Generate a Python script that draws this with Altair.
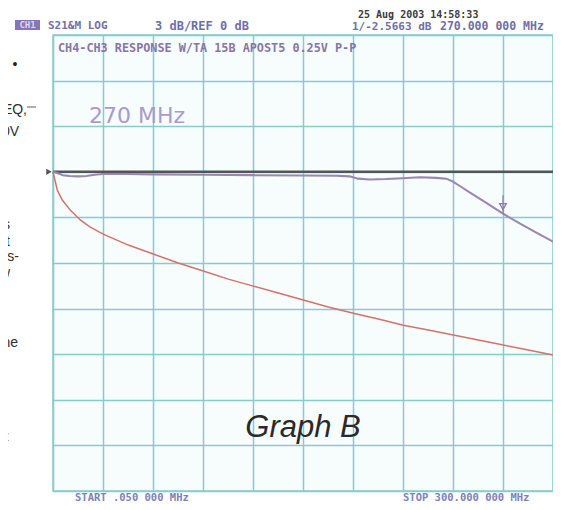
import altair as alt
import pandas as pd

# ---------------- data ----------------
freq_ref = [0.05, 300.0]
db_ref = [0.0, 0.0]

freq_purple = [0.05, 3, 6, 10, 15, 20, 25, 30, 45, 60, 90, 120, 150, 170, 178,
               183, 190, 200, 210, 220, 230, 236, 240, 245, 250, 260, 270, 280, 290, 300]
db_purple = [0.0, -0.1, -0.22, -0.28, -0.3, -0.28, -0.2, -0.15, -0.15, -0.17, -0.2, -0.22,
             -0.24, -0.26, -0.3, -0.45, -0.5, -0.48, -0.42, -0.36, -0.4, -0.45, -0.65,
             -1.0, -1.35, -2.05, -2.75, -3.4, -4.0, -4.6]

freq_red = [0.05, 2.6, 5.6, 10.4, 16.4, 22.4, 30.2, 45.2, 60.2, 75.2, 90.2, 105.2, 120.2,
            135.2, 150.2, 165.2, 180.2, 195.2, 210.2, 225.2, 240.2, 255.2, 270.2, 285.2, 300]
db_red = [0.0, -1.2, -1.86, -2.52, -3.17, -3.64, -4.1, -4.82, -5.41, -6.0, -6.53, -7.06,
          -7.52, -7.98, -8.44, -8.9, -9.3, -9.69, -10.09, -10.41, -10.74, -11.07, -11.4,
          -11.73, -12.06]

marker_freq = [270.0]
marker_db = [-2.75]

x_grid = [0.05, 30, 60, 90, 120, 150, 180, 210, 240, 270, 300]
y_grid = [9, 6, 3, 0, -3, -6, -9, -12, -15, -18, -21]

series_names = ["ref", "magnitude", "response"]
series_colors = ["#545454", "#9a86b0", "#d2736b"]
series_widths = [2.6, 1.5, 1.5]

header_date = "25 Aug 2003  14:58:33"
header_ch = "CH1"
header_fmt = "S21&M LOG"
header_scale = "3 dB/REF 0 dB"
header_mkr = "1/-2.5663 dB"
header_mkr_f = "270.000 000 MHz"
header_title = "CH4-CH3  RESPONSE W/TA 15B  APOST5 0.25V P-P"
start_text = "START  .050 000 MHz"
stop_text = "STOP  300.000 000 MHz"
freq_label = "270 MHz"
graph_label = "Graph B"
side_texts = ["EQ,", "0V", "s", "t", "is-", "w", "ne", "z"]

# ---------------- tables ----------------
rows = []
for f, d in zip(freq_ref, db_ref):
    rows.append({"freq": f, "db": d, "series": "ref"})
for f, d in zip(freq_purple, db_purple):
    rows.append({"freq": f, "db": d, "series": "magnitude"})
for f, d in zip(freq_red, db_red):
    rows.append({"freq": f, "db": d, "series": "response"})
lines_df = pd.DataFrame(rows)

marker_df = pd.DataFrame({"freq": marker_freq, "db": marker_db})
start_df = pd.DataFrame({"freq": [freq_ref[0]], "db": [db_ref[0]]})

GRID = "#86cccc"

x_enc = alt.X("freq:Q",
              scale=alt.Scale(domain=[0.05, 300], nice=False, zero=False),
              axis=alt.Axis(values=x_grid, grid=True, labels=False, ticks=False,
                            domain=False, title=None, gridColor=GRID, gridWidth=1.5,
                            gridOpacity=1))
y_enc = alt.Y("db:Q",
              scale=alt.Scale(domain=[-21, 9], nice=False, zero=False),
              axis=alt.Axis(values=y_grid, grid=True, labels=False, ticks=False,
                            domain=False, title=None, gridColor=GRID, gridWidth=1.5,
                            gridOpacity=1))

lines = alt.Chart(lines_df).mark_line().encode(
    x=x_enc, y=y_enc,
    color=alt.Color("series:N", scale=alt.Scale(domain=series_names, range=series_colors),
                    legend=None),
    strokeWidth=alt.StrokeWidth("series:N",
                                scale=alt.Scale(domain=series_names, range=series_widths),
                                legend=None),
)

start_arrow = alt.Chart(start_df).mark_point(
    shape="triangle-right", filled=True, size=40, color="#545454", opacity=1, xOffset=-4
).encode(x="freq:Q", y="db:Q")

marker = alt.Chart(marker_df).mark_point(
    shape="triangle-down", filled=False, size=45, color="#8f7aa8", strokeWidth=1.3,
    opacity=1, yOffset=-7
).encode(x="freq:Q", y="db:Q")

marker_stem = alt.Chart(marker_df).transform_calculate(top="datum.db + 1.2").mark_rule(
    color="#8f7aa8", strokeWidth=1.2).encode(x="freq:Q", y="db:Q", y2="top:Q")


def txt(text, x, y, size=11, color="#444", align="left", baseline="middle",
        font="DejaVu Sans Mono", weight="normal", style="normal", opacity=1.0):
    return alt.Chart(pd.DataFrame({"t": [text]})).mark_text(
        align=align, baseline=baseline, fontSize=size, font=font, fontWeight=weight,
        fontStyle=style, color=color, opacity=opacity
    ).encode(text="t:N", x=alt.value(x), y=alt.value(y))


ch_box = alt.Chart(pd.DataFrame({"a": [1]})).mark_rect(color="#8677b6").encode(
    x=alt.value(-38), x2=alt.value(-13), y=alt.value(-15), y2=alt.value(-5))

texts = [
    txt(header_date, 305, -25.5, size=10, color="#3c3c3c", weight="bold", baseline="top"),
    ch_box,
    txt(header_ch, -25.5, -10, size=9, color="#ddd8ef", weight="bold", align="center"),
    txt(header_fmt, -5, -9, size=11, color="#6f6fa4", weight="bold"),
    txt(header_scale, 102, -9, size=12, color="#6f6fa4", weight="bold"),
    txt(header_mkr, 299, -8.5, size=11, color="#6f6fa4", weight="bold"),
    txt(header_mkr_f, 387, -8.5, size=11.5, color="#6f6fa4", weight="bold"),
    txt(header_title, 5, 13, size=11.8, color="#8676a6", weight="bold"),
    txt(start_text, 22, 457.5, size=10.5, color="#8080b4", weight="bold", baseline="top"),
    txt(stop_text, 350, 457.5, size=10.5, color="#8080b4", weight="bold", baseline="top"),
    txt(freq_label, 36, 81, size=22, color="#a99bcb", font="DejaVu Sans"),
    txt(graph_label, 250, 402, size=31, color="#2a2a2a", font="Liberation Sans",
        style="italic", align="center", baseline="alphabetic"),
    txt("\u2022", -38, 30, size=14, color="#222", font="Liberation Sans", align="center"),
]

side_pos = [(-26, 75), (-34, 97), (-43, 190), (-43, 207), (-34, 222), (-43, 238),
            (-35, 308), (-44, 402)]
for s, (px, py) in zip(side_texts, side_pos):
    texts.append(txt(s, px, py, size=14, color="#2e2e2e", font="Liberation Sans",
                     align="right"))

leader = alt.Chart(pd.DataFrame({"a": [1]})).mark_rule(color="#777", strokeWidth=1.2).encode(
    x=alt.value(-26), x2=alt.value(-17), y=alt.value(72))

chart = alt.layer(lines, start_arrow, marker_stem, marker, leader, *texts).properties(
    width=500, height=456,
    autosize=alt.AutoSizeParams(type="none"),
    padding={"left": 45, "top": 27, "right": 0, "bottom": 11},
    background="white",
).configure_view(fill="#f7fcfc", stroke=GRID, strokeWidth=1.5)

chart.save("out.html", embed_options={"renderer": "svg", "actions": False})
